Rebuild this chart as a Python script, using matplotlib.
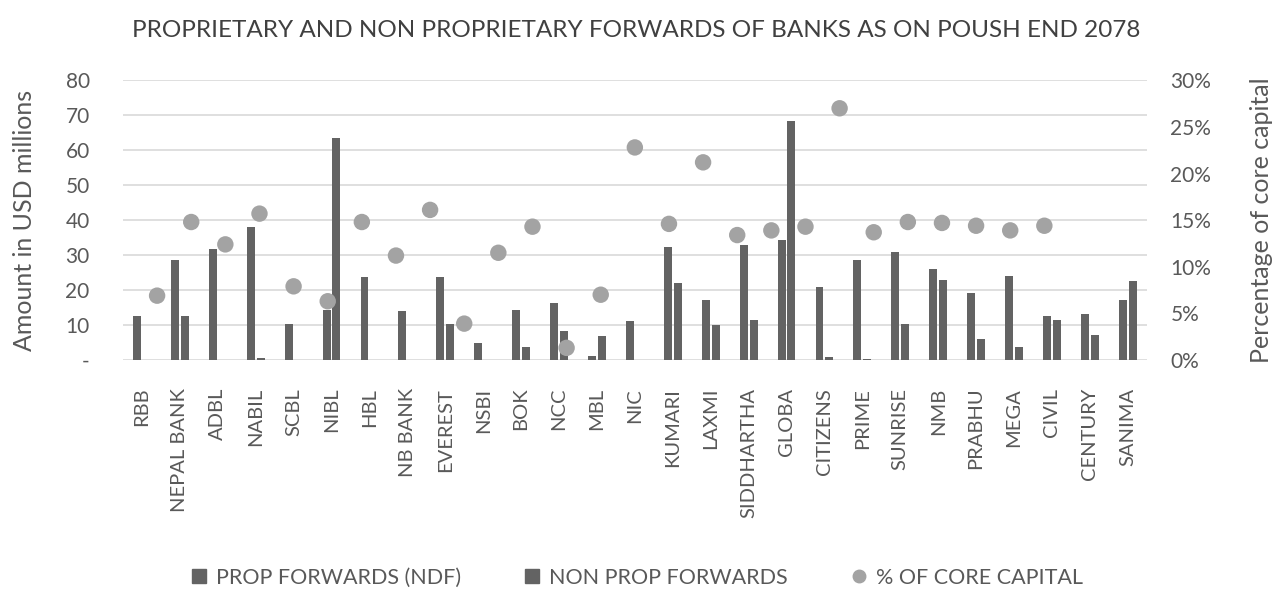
import numpy as np
import matplotlib.pyplot as plt
from matplotlib.lines import Line2D
from matplotlib.ticker import FuncFormatter

plt.rcParams['font.family'] = ['Lato', 'DejaVu Sans']

banks = ['RBB', 'NEPAL BANK', 'ADBL', 'NABIL', 'SCBL', 'NIBL', 'HBL', 'NB BANK',
         'EVEREST', 'NSBI', 'BOK', 'NCC', 'MBL', 'NIC', 'KUMARI', 'LAXMI',
         'SIDDHARTHA', 'GLOBA', 'CITIZENS', 'PRIME', 'SUNRISE', 'NMB', 'PRABHU',
         'MEGA', 'CIVIL', 'CENTURY', 'SANIMA']

# USD millions
prop_fwd = [12.7, 28.5, 31.7, 38.0, 10.4, 14.3, 23.8, 13.9, 23.8, 4.9, 14.3, 16.3,
            1.2, 11.2, 32.4, 17.1, 32.8, 34.3, 21.0, 28.5, 30.8, 26.0, 19.1, 24.1,
            12.6, 13.2, 17.1]
non_prop_fwd = [0, 12.7, 0, 0.5, 0, 63.5, 0, 0, 10.4, 0, 3.6, 8.4,
                6.8, 0, 22.1, 9.9, 11.5, 68.3, 0.8, 0.4, 10.3, 22.9, 6.0, 3.6,
                11.5, 7.1, 22.5]

# % of core capital (plotted on its own 30-slot category axis, as in the source)
core_pct = [6.9, 14.8, 12.4, 15.7, 7.9, 6.3, 14.8, 11.2, 16.1, 3.9, 11.5, 14.3,
            1.3, 7.0, 22.8, 14.6, 21.2, 13.4, 13.9, 14.3, 27.0, 13.7, 14.8, 14.7,
            14.4, 13.9, 14.4]

txt = '#595959'
bar_c = '#636363'
dot_c = '#a3a3a3'

fig = plt.figure(figsize=(12.73, 5.91), dpi=100)
ax = fig.add_axes([0.0966, 0.3909, 0.8042, 0.4732])

x = np.arange(len(banks))
w = 0.21
ax.bar(x - 0.13, prop_fwd, w, color=bar_c, zorder=2)
ax.bar(x + 0.13, non_prop_fwd, w, color=bar_c, zorder=2)
ax.set_xlim(-0.5, len(banks) - 0.5)
ax.set_ylim(0, 80)
ax.set_yticks(range(0, 81, 10))
ax.yaxis.set_major_formatter(FuncFormatter(lambda v, p: '-' if v == 0 else '%d' % v))
ax.set_xticks(x)
ax.set_xticklabels(banks, rotation=90, va='top', ha='center')
ax.grid(axis='y', color='#d9d9d9', lw=1.2, zorder=0)
ax.tick_params(axis='y', length=0, pad=24, labelsize=15, labelcolor=txt)
ax.tick_params(axis='x', length=0, pad=20, labelsize=14.5, labelcolor=txt)
for s in ax.spines.values():
    s.set_visible(False)
ax.set_ylabel('Amount in USD millions', fontsize=18, color=txt, labelpad=21)

ax2 = ax.twinx()
ax2.set_ylim(0, 30)
ax2.set_yticks(range(0, 31, 5))
ax2.yaxis.set_major_formatter(FuncFormatter(lambda v, p: '%d%%' % v))
ax2.tick_params(axis='y', length=0, pad=17, labelsize=15, labelcolor=txt)
for s in ax2.spines.values():
    s.set_visible(False)
ax2.set_ylabel('Percentage of core capital', fontsize=18, color=txt, labelpad=28)

ax3 = ax2.twiny()
ax3.set_xlim(0, 30)
ax3.scatter(np.arange(1, len(core_pct) + 1), core_pct, s=140, color=dot_c,
            edgecolors='none', zorder=3, clip_on=False)
ax3.set_xticks([])
for s in ax3.spines.values():
    s.set_visible(False)

fig.suptitle('PROPRIETARY AND NON PROPRIETARY FORWARDS OF BANKS AS ON POUSH END 2078',
             y=0.967, fontsize=17.5, color='#404040')

handles = [Line2D([], [], ls='none', marker='s', ms=9.5, color=bar_c),
           Line2D([], [], ls='none', marker='s', ms=9.5, color=bar_c),
           Line2D([], [], ls='none', marker='o', ms=9, color=dot_c)]
labels = ['PROP FORWARDS (NDF)', 'NON PROP FORWARDS', '% OF CORE CAPITAL']
fig.legend(handles, labels, loc='center', bbox_to_anchor=(0.5, 0.022), ncol=3,
           frameon=False, fontsize=15.5, labelcolor=txt, columnspacing=2.9,
           handletextpad=0.4, handlelength=0.8)

fig.savefig('out.png', dpi=100)
